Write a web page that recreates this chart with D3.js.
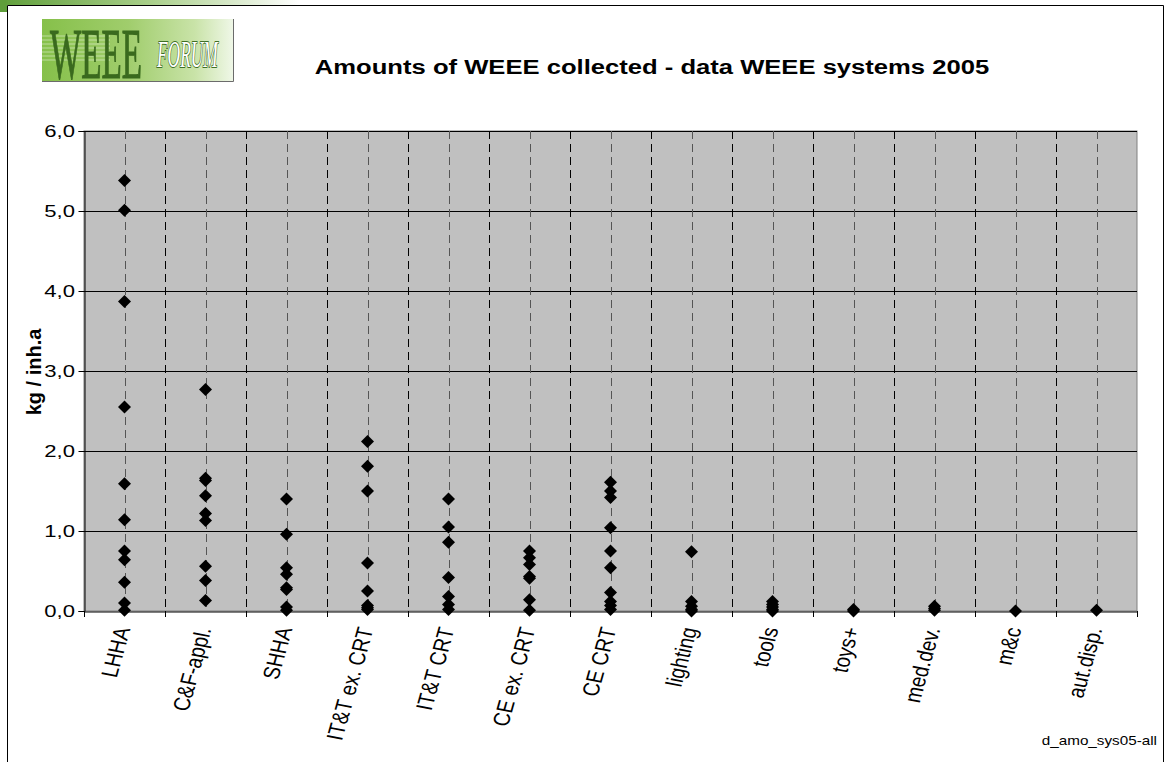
<!DOCTYPE html>
<html>
<head>
<meta charset="utf-8">
<script src="https://cdn.jsdelivr.net/npm/d3@7"></script>
<style>
  html, body { margin: 0; padding: 0; background: #ffffff; }
  svg { display: block; }
  text { font-family: Arial, "Liberation Sans", Helvetica, sans-serif; }
</style>
</head>
<body>
<svg id="chart" width="1165" height="762"></svg>
<script>
// ---------------- data ----------------
const categories = ["LHHA", "C&F-appl.", "SHHA", "IT&T ex. CRT", "IT&T CRT", "CE ex. CRT",
                    "CE CRT", "lighting", "tools", "toys+", "med.dev.", "m&c", "aut.disp."];
const lhha      = [5.38, 5.01, 3.87, 2.55, 1.59, 1.14, 0.75, 0.64, 0.36, 0.10, 0.01];
const cfAppl    = [2.77, 1.66, 1.63, 1.44, 1.22, 1.13, 0.56, 0.38, 0.13];
const shha      = [1.40, 0.96, 0.54, 0.46, 0.29, 0.27, 0.05, 0.01];
const ittExCrt  = [2.12, 1.81, 1.50, 0.60, 0.25, 0.07, 0.04, 0.02];
const ittCrt    = [1.40, 1.05, 0.86, 0.42, 0.18, 0.08, 0.02];
const ceExCrt   = [0.75, 0.665, 0.58, 0.43, 0.41, 0.14, 0.01];
const ceCrt     = [1.61, 1.50, 1.42, 1.04, 0.75, 0.54, 0.23, 0.12, 0.07, 0.02];
const lighting  = [0.74, 0.12, 0.06, 0.02, 0.00];
const tools     = [0.12, 0.08, 0.05, 0.02, 0.00];
const toys      = [0.02, 0.00];
const medDev    = [0.06, 0.03, 0.01];
const mc        = [0.00];
const autDisp   = [0.01];
const seriesValues = [lhha, cfAppl, shha, ittExCrt, ittCrt, ceExCrt, ceCrt,
                      lighting, tools, toys, medDev, mc, autDisp];
const yTicks = [0, 1, 2, 3, 4, 5, 6];
const titleText = "Amounts of WEEE collected - data WEEE systems 2005";
const yAxisTitle = "kg / inh.a";
const footnote = "d_amo_sys05-all";

// ---------------- layout ----------------
const svg = d3.select("#chart");
const W = 1165, H = 762;
const plot = { left: 84, right: 1137, top: 131, bottom: 611 };
const SX = 1.22; // horizontal stretch of the original rendering

const x = d3.scaleBand().domain(categories).range([plot.left, plot.right]).padding(0);
const y = d3.scaleLinear().domain([0, 6]).range([plot.bottom, plot.top]);

const defs = svg.append("defs");
const gTop = defs.append("linearGradient").attr("id", "topband").attr("x1", "0").attr("x2", "1");
gTop.append("stop").attr("offset", "0").attr("stop-color", "#5f9e3a");
gTop.append("stop").attr("offset", "0.5").attr("stop-color", "#a9cf8a");
gTop.append("stop").attr("offset", "1").attr("stop-color", "#ffffff");
const gLogo = defs.append("linearGradient").attr("id", "logograd").attr("x1", "0").attr("x2", "1");
gLogo.append("stop").attr("offset", "0").attr("stop-color", "#86c04a");
gLogo.append("stop").attr("offset", "0.45").attr("stop-color", "#a0cd6c");
gLogo.append("stop").attr("offset", "0.8").attr("stop-color", "#c9e3a8");
gLogo.append("stop").attr("offset", "1").attr("stop-color", "#eff7e7");

// top-left decoration + frame
svg.append("rect").attr("x", 0).attr("y", 0).attr("width", 300).attr("height", 5).attr("fill", "url(#topband)");
svg.append("rect").attr("x", 0).attr("y", 0).attr("width", 7).attr("height", 12).attr("fill", "#5f9e3a");
svg.append("path")
  .attr("d", `M7.5,${H} V5.5 H1163.5 V${H}`)
  .attr("fill", "none").attr("stroke", "#000").attr("stroke-width", 1);

// logo
const logo = svg.append("g");
logo.append("rect").attr("x", 42).attr("y", 19).attr("width", 191).attr("height", 62).attr("fill", "url(#logograd)");
[36, 40, 44, 48, 52, 56, 60].forEach(yy => {
  logo.append("line").attr("x1", 42).attr("x2", 110).attr("y1", yy).attr("y2", yy)
    .attr("stroke", "#ffffff").attr("stroke-opacity", 0.45).attr("stroke-width", 1.2);
});
logo.append("path").attr("d", "M233.5,19 V81.5 H42").attr("fill", "none").attr("stroke", "#6b6b6b").attr("stroke-width", 1);
logo.append("text").text("WEEE")
  .attr("transform", "translate(50,78) scale(0.46,1)")
  .style("font-family", "'Liberation Serif', 'Times New Roman', serif")
  .style("font-size", "72px").attr("fill", "#3a6a1e")
  .attr("stroke", "#3a6a1e").attr("stroke-width", 1.2);
logo.append("text").text("FORUM")
  .attr("transform", "translate(157,67) scale(0.47,1)")
  .style("font-family", "'Liberation Serif', 'Times New Roman', serif")
  .style("font-style", "italic")
  .style("font-size", "37px").attr("fill", "#ffffff")
  .attr("stroke", "#3f6f25").attr("stroke-width", 2).attr("paint-order", "stroke");

// title
svg.append("text").text(titleText)
  .attr("transform", `translate(652,74) scale(${SX},1)`)
  .attr("text-anchor", "middle")
  .style("font-size", "21px").style("font-weight", "bold").attr("fill", "#000");

// plot background
svg.append("rect").attr("x", plot.left).attr("y", plot.top)
  .attr("width", plot.right - plot.left).attr("height", plot.bottom - plot.top)
  .attr("fill", "#c0c0c0").attr("stroke", "#808080").attr("stroke-width", 1);

// horizontal gridlines
svg.append("g").selectAll("line").data(yTicks.filter(d => d > 0)).join("line")
  .attr("x1", plot.left).attr("x2", plot.right)
  .attr("y1", d => Math.round(y(d)) + 0.5).attr("y2", d => Math.round(y(d)) + 0.5)
  .attr("stroke", "#000").attr("stroke-width", 1);

// vertical dashed gridlines at category boundaries
const bounds = categories.slice(1).map(c => x(c));
svg.append("g").selectAll("line").data(bounds).join("line")
  .attr("x1", d => Math.round(d) + 0.5).attr("x2", d => Math.round(d) + 0.5)
  .attr("y1", plot.top).attr("y2", plot.bottom)
  .attr("stroke", "#000").attr("stroke-width", 1).attr("stroke-dasharray", "8,5");

// vertical dashed lines at category centres
svg.append("g").selectAll("line").data(categories).join("line")
  .attr("x1", d => Math.round(x(d) + x.bandwidth() / 2) + 0.5)
  .attr("x2", d => Math.round(x(d) + x.bandwidth() / 2) + 0.5)
  .attr("y1", plot.top).attr("y2", plot.bottom)
  .attr("stroke", "#555").attr("stroke-width", 1).attr("stroke-dasharray", "8,5");

// axes
const yAxis = svg.append("g").attr("transform", `translate(${plot.left + 0.5},0)`)
  .call(d3.axisLeft(y).tickValues(yTicks).tickSize(6).tickFormat(() => ""));
yAxis.select(".domain").attr("stroke", "#000");
yAxis.selectAll(".tick line").attr("stroke", "#000");

svg.append("g").selectAll("text").data(yTicks).join("text")
  .text(d => d3.format(".1f")(d).replace(".", ","))
  .attr("transform", d => `translate(75,${y(d) + 6}) scale(1.3,1)`)
  .attr("text-anchor", "end")
  .style("font-size", "17px").attr("fill", "#000");

const xAxis = svg.append("g").attr("transform", `translate(0,${plot.bottom + 0.5})`)
  .call(d3.axisBottom(x).tickSize(0).tickFormat(() => ""));
xAxis.select(".domain").attr("stroke", "#000");
svg.append("g").selectAll("line").data([plot.left].concat(bounds, [plot.right])).join("line")
  .attr("x1", d => Math.round(d) + 0.5).attr("x2", d => Math.round(d) + 0.5)
  .attr("y1", plot.bottom).attr("y2", plot.bottom + 6)
  .attr("stroke", "#000");

// x labels
svg.append("g").selectAll("text").data(categories).join("text")
  .text(d => d)
  .attr("transform", d => `translate(${x(d) + x.bandwidth() / 2 + 6},629) scale(${SX},1) rotate(-77)`)
  .attr("text-anchor", "end")
  .style("font-size", "19px").attr("fill", "#000");

// y axis title
svg.append("text").text(yAxisTitle)
  .attr("transform", `translate(41,372) rotate(-90)`)
  .attr("text-anchor", "middle")
  .style("font-size", "20px").style("font-weight", "bold").attr("fill", "#000");

// markers
const diamond = "M0,-6.5L6.5,0L0,6.5L-6.5,0Z";
const pts = [];
seriesValues.forEach((vals, i) => vals.forEach(v => pts.push({ c: categories[i], v })));
svg.append("g").selectAll("path").data(pts).join("path")
  .attr("d", diamond)
  .attr("transform", d => `translate(${x(d.c) + x.bandwidth() / 2},${y(d.v)})`)
  .attr("fill", "#000");

// footnote
svg.append("text").text(footnote)
  .attr("transform", `translate(1157,745) scale(${SX},1)`)
  .attr("text-anchor", "end")
  .style("font-size", "12.5px").attr("fill", "#000");
</script>
</body>
</html>
